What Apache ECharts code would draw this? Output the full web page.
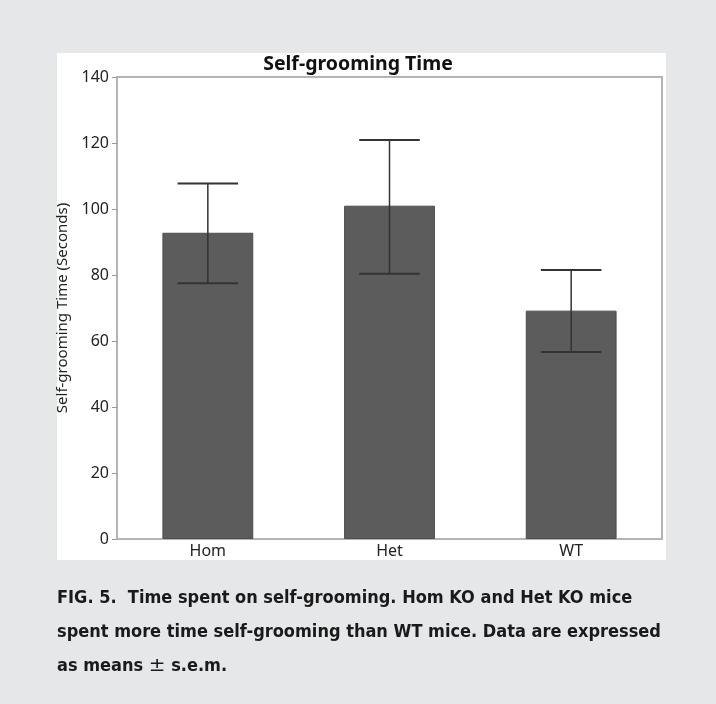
<!DOCTYPE html>
<html>
<head>
<meta charset="utf-8">
<script src="https://cdn.jsdelivr.net/npm/echarts@6/dist/echarts.min.js"></script>
<style>html,body{margin:0;padding:0;background:#e6e7e9;}#c{width:716px;height:704px;}</style>
</head>
<body>
<div id="c"></div>
<script>
const categories = ['Hom', 'Het', 'WT'];
const means = [92.8, 101.0, 69.2];
const errLow = [77.5, 80.4, 56.7];
const errHigh = [107.7, 120.9, 81.5];
const yTicks = [0, 20, 40, 60, 80, 100, 120, 140];
const chartTitle = 'Self-grooming Time';
const yAxisTitle = 'Self-grooming Time (Seconds)';
const captionLines = [
  'FIG. 5.  Time spent on self-grooming. Hom KO and Het KO mice',
  'spent more time self-grooming than WT mice. Data are expressed',
  'as means {pm|\u00b1} s.e.m.'
];

const chart = echarts.init(document.getElementById('c'));
const capFont = "'Liberation Sans Narrow', 'DejaVu Sans Condensed', 'Roboto', sans-serif";

function capText(i, top) {
  return {
    type: 'text', left: 57, top: top,
    style: {
      text: captionLines[i], font: "bold 18px " + capFont, fill: '#1a1a1a',
      rich: { pm: { fontWeight: 'normal', fontSize: 20, fill: '#1a1a1a', fontFamily: 'DejaVu Sans' } }
    }
  };
}

chart.setOption({
  backgroundColor: '#e6e7e9',
  animation: false,
  title: {
    text: chartTitle,
    left: 'center',
    top: 49,
    textStyle: { fontFamily: 'Noto Sans', fontWeight: 'bold', fontSize: 19.5, color: '#111' }
  },
  graphic: [
    { type: 'rect', z: -10, shape: { x: 57, y: 53, width: 609, height: 507 }, style: { fill: '#ffffff' } },
    capText(0, 589),
    capText(1, 623),
    capText(2, 656)
  ],
  grid: {
    left: 117, right: 54, top: 77, bottom: 165,
    show: true, borderColor: '#b4b4b4', borderWidth: 2, backgroundColor: 'transparent'
  },
  xAxis: {
    type: 'category',
    data: categories,
    axisLine: { lineStyle: { color: '#b4b4b4', width: 2 } },
    axisTick: { show: false },
    axisLabel: { color: '#222', fontSize: 16, fontFamily: 'Noto Sans', margin: 4 }
  },
  yAxis: {
    type: 'value',
    min: yTicks[0],
    max: yTicks[yTicks.length - 1],
    interval: 20,
    name: yAxisTitle,
    nameLocation: 'middle',
    nameGap: 44,
    nameTextStyle: { color: '#222', fontSize: 15, fontFamily: 'Noto Sans' },
    axisLine: { show: true, lineStyle: { color: '#b4b4b4', width: 2 } },
    axisTick: { show: true, length: 5, lineStyle: { color: '#999' } },
    axisLabel: { color: '#222', fontSize: 16, fontFamily: 'Noto Sans', margin: 8 },
    splitLine: { show: false }
  },
  series: [
    {
      type: 'bar',
      data: means,
      barWidth: '50%',
      itemStyle: { color: '#5c5c5c', borderColor: '#4e4e4e', borderWidth: 1 }
    },
    {
      type: 'custom',
      z: 10,
      data: categories.map((c, i) => [i, errLow[i], errHigh[i]]),
      renderItem: function (params, api) {
        const lo = api.coord([api.value(0), api.value(1)]);
        const hi = api.coord([api.value(0), api.value(2)]);
        const bw = api.size([1, 0])[0] * 0.5;
        const half = bw / 3;
        const st = { stroke: '#333', lineWidth: 2 };
        return {
          type: 'group',
          children: [
            { type: 'line', shape: { x1: hi[0], y1: hi[1], x2: lo[0], y2: lo[1] }, style: { stroke: '#333', lineWidth: 1.5 } },
            { type: 'line', shape: { x1: hi[0] - half, y1: hi[1], x2: hi[0] + half, y2: hi[1] }, style: st },
            { type: 'line', shape: { x1: lo[0] - half, y1: lo[1], x2: lo[0] + half, y2: lo[1] }, style: st }
          ]
        };
      }
    }
  ]
});
</script>
</body>
</html>
